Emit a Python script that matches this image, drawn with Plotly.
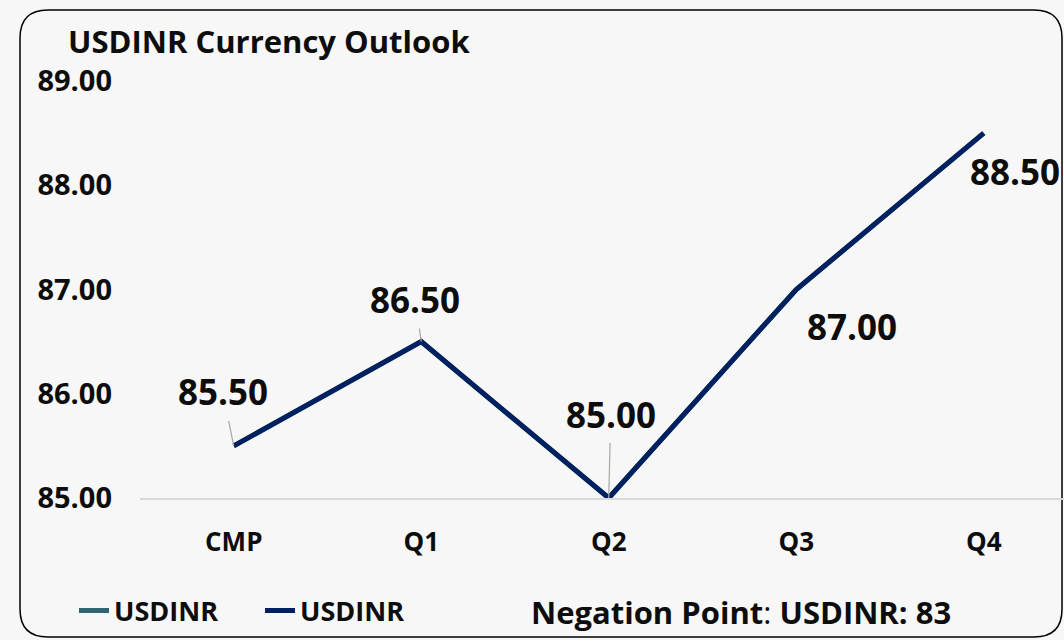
import plotly.graph_objects as go

categories = ["CMP", "Q1", "Q2", "Q3", "Q4"]
usdinr = [85.50, 86.50, 85.00, 87.00, 88.50]
y_ticks = [85, 86, 87, 88, 89]
title_text = "USDINR Currency Outlook"
series_name = "USDINR"
negation_text = "<b>Negation Point</b>: <b>USDINR: 83</b>"

FONT = "Open Sans"
W, H = 1064, 640
ML, MR, MT, MB = 140, 0, 81, 142
PW, PH = W - ML - MR, H - MT - MB


def px(x):
    return (x - ML) / PW


def py(y):
    return 1 - (y - MT) / PH


fig = go.Figure()
fig.add_trace(go.Scatter(x=categories, y=usdinr, mode="lines", name=series_name,
                         line=dict(color="#2F6473", width=5)))
fig.add_trace(go.Scatter(x=categories, y=usdinr, mode="lines", name=series_name,
                         line=dict(color="#002060", width=5)))

# data labels (offsets in pixels), leader lines for first three
label_style = [
    dict(showarrow=True, ax=-11, ay=-54),
    dict(showarrow=True, ax=-6, ay=-42),
    dict(showarrow=True, ax=2, ay=-84),
    dict(showarrow=False, xshift=56, yshift=-37),
    dict(showarrow=False, xshift=31, yshift=-38),
]
for c, v, st in zip(categories, usdinr, label_style):
    fig.add_annotation(x=c, y=v, xref="x", yref="y", text=f"<b>{v:.2f}</b>",
                       font=dict(family=FONT, size=35, color="#0d0d0d"),
                       arrowhead=0, arrowwidth=1.2, arrowcolor="#a6a6a6",
                       startstandoff=4, **st)

# negation text
fig.add_annotation(x=px(741), y=py(612), xref="paper", yref="paper", showarrow=False,
                   text=negation_text, xanchor="center", yanchor="middle",
                   font=dict(family=FONT, size=31, color="#0d0d0d"))

# rounded border
x0, y0, x1, y1, r = 20, 10, 1062, 637, 28
path = (f"M {px(x0 + r)},{py(y0)} L {px(x1 - r)},{py(y0)} "
        f"Q {px(x1)},{py(y0)} {px(x1)},{py(y0 + r)} "
        f"L {px(x1)},{py(y1 - r)} Q {px(x1)},{py(y1)} {px(x1 - r)},{py(y1)} "
        f"L {px(x0 + r)},{py(y1)} Q {px(x0)},{py(y1)} {px(x0)},{py(y1 - r)} "
        f"L {px(x0)},{py(y0 + r)} Q {px(x0)},{py(y0)} {px(x0 + r)},{py(y0)} Z")
fig.add_shape(type="path", path=path, xref="paper", yref="paper",
              line=dict(color="#000000", width=1.5), layer="below")

fig.update_layout(
    width=W, height=H, autosize=False,
    margin=dict(l=ML, r=MR, t=MT, b=MB),
    paper_bgcolor="#f7f7f7", plot_bgcolor="rgba(0,0,0,0)",
    title=dict(text=f"<b>{title_text}</b>", xref="container", yref="container",
               x=68 / W, y=1 - 42 / H, xanchor="left", yanchor="middle",
               font=dict(family=FONT, size=31, color="#0d0d0d")),
    showlegend=True,
    legend=dict(orientation="h", xref="container", yref="container",
                x=74 / W, y=1 - 611 / H, xanchor="left", yanchor="middle",
                font=dict(family=FONT, size=27, color="#0d0d0d", weight="bold"),
                bgcolor="rgba(0,0,0,0)", itemwidth=30, tracegroupgap=0,
                entrywidth=141, entrywidthmode="pixels"),
    xaxis=dict(type="category", range=[-0.5, 4.428], showgrid=False, zeroline=False,
               showline=True, linecolor="#d9d9d9", linewidth=1.5,
               tickfont=dict(family=FONT, size=26, color="#0d0d0d"),
               ticks="", ticklabelstandoff=20,
               tickvals=categories, ticktext=[f"<b>{c}</b>" for c in categories]),
    yaxis=dict(range=[85, 89], showgrid=False, zeroline=False, showline=False,
               tickvals=y_ticks, ticktext=[f"<b>{t:.2f}</b>" for t in y_ticks],
               tickfont=dict(family=FONT, size=29, color="#0d0d0d"),
               ticks="", ticklabelstandoff=27),
)

fig.write_html("out.html", config={"displayModeBar": False},
               post_script="document.body.style.margin='0';"
                           "document.body.style.background='#f7f7f7';")
